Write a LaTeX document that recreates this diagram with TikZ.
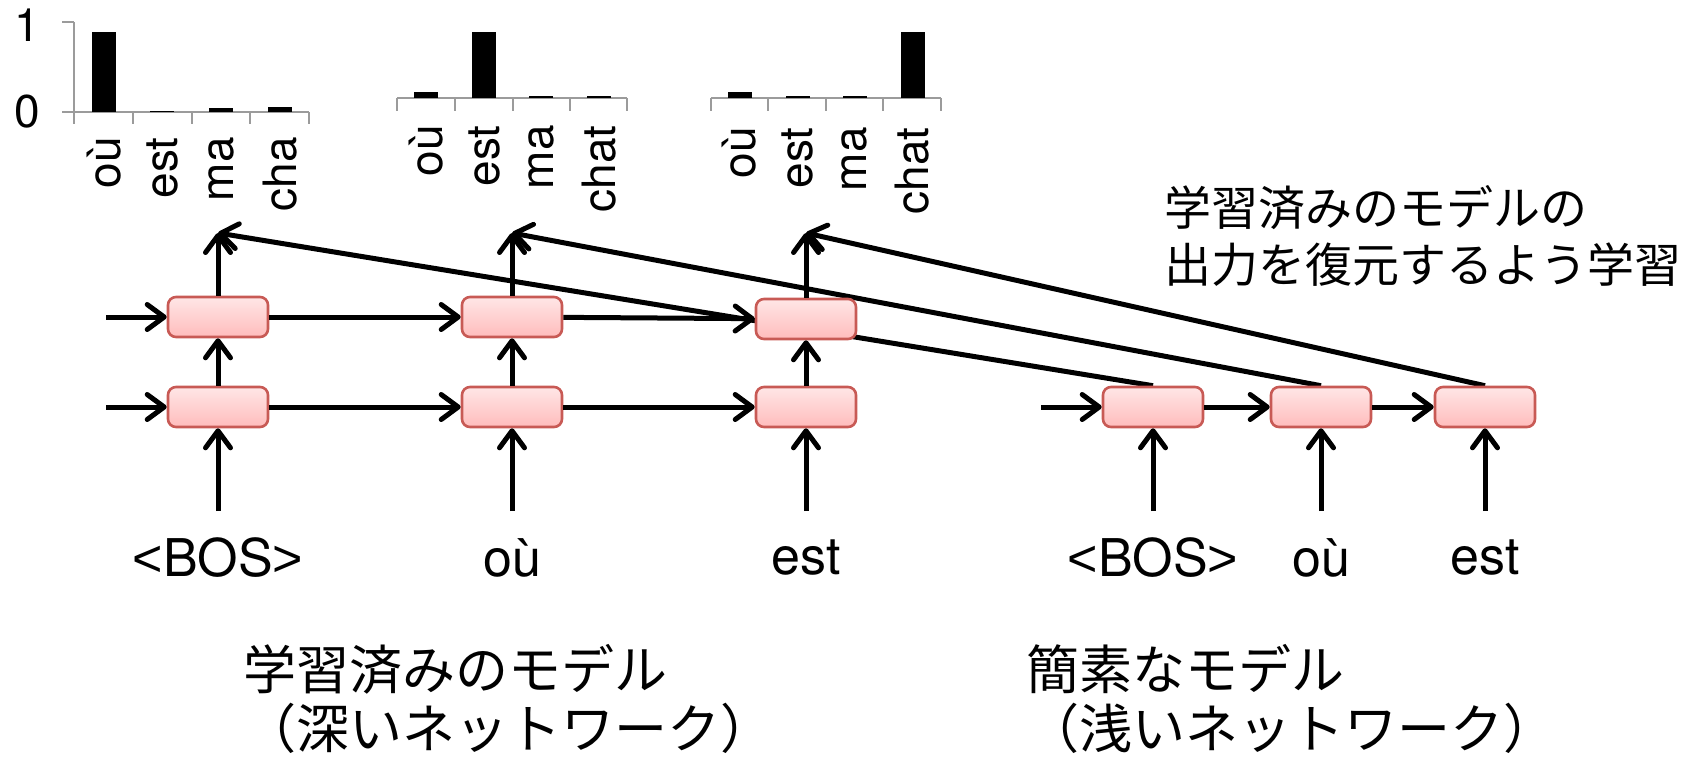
\documentclass[tikz,border=0pt]{standalone}
\usepackage{fontspec}
\setmainfont{TeX Gyre Heros}
\newfontfamily\lib{Liberation Sans}
\newfontfamily\jp{Noto Sans CJK JP}
\usetikzlibrary{arrows.meta}
\pgfdeclarelayer{background}
\pgfsetlayers{background,main}

\definecolor{boxborder}{RGB}{200,90,85}
\definecolor{boxtop}{RGB}{255,230,230}
\definecolor{boxbot}{RGB}{255,188,188}
\definecolor{axisgray}{RGB}{155,155,155}

\newcommand{\bos}{{\lib<}BOS{\lib>}}

\tikzset{
 cell/.style={draw=boxborder, line width=1.3pt, rounded corners=4pt, top color=boxtop, bottom color=boxbot, minimum width=50pt, minimum height=20pt, inner sep=0pt},
 conn/.style={line width=2.5pt, -{Straight Barb[length=8.5pt,width=12.5pt,round]}},
 word/.style={font=\fontsize{26}{30}\selectfont, inner sep=0pt},
 cat/.style={font=\fontsize{23}{27}\selectfont, rotate=90, anchor=east, inner sep=0pt},
 num/.style={font=\fontsize{23}{27}\selectfont, anchor=east, inner sep=0pt},
 jcap/.style={font=\jp\fontsize{26.5}{29.5}\selectfont, anchor=west, inner sep=0pt},
 jnote/.style={font=\jp\fontsize{23.5}{28}\selectfont, anchor=west, inner sep=0pt},
 ax/.style={draw=axisgray, line width=1pt},
}

\begin{document}
\begin{tikzpicture}[x=0.5pt,y=-0.5pt]
\useasboundingbox (0,0) rectangle (1704,757);

% ---------- chart 1 ----------
\draw[ax] (62,22) -- (74,22);
\draw[ax] (74,22) -- (74,124);
\draw[ax] (62,112) -- (309,112);
\foreach \x in {133,192,250,309} \draw[ax] (\x,112) -- (\x,124);
\fill (92,32) rectangle (116,112);
\fill (150,111) rectangle (174,112);
\fill (209,108) rectangle (233,112);
\fill (268,107) rectangle (292,112);
\node[num] (n1) at (40,25) {1};
\node[num] (n0) at (40,112) {0};
\node[cat] (a1) at (104,137) {où};
\node[cat] (a2) at (162,137) {est};
\node[cat] (a3) at (221,137) {ma};
\node[cat] (a4) at (280,137) {cha};

% ---------- chart 2 ----------
\draw[ax] (397,98) -- (627,98);
\foreach \x in {397,455,513,570,627} \draw[ax] (\x,98) -- (\x,111);
\fill (414,92) rectangle (438,98);
\fill (472,32) rectangle (496,98);
\fill (529,96) rectangle (553,98);
\fill (587,96) rectangle (611,98);
\node[cat] (b1l) at (426,125) {où};
\node[cat] (b2l) at (484,125) {est};
\node[cat] (b3l) at (541,125) {ma};
\node[cat] (b4l) at (599,125) {chat};

% ---------- chart 3 ----------
\draw[ax] (711,98) -- (941,98);
\foreach \x in {711,768,826,883,941} \draw[ax] (\x,98) -- (\x,111);
\fill (728,92) rectangle (752,98);
\fill (786,96) rectangle (810,98);
\fill (843,96) rectangle (867,98);
\fill (901,32) rectangle (925,98);
\node[cat] (c1l) at (739,127) {où};
\node[cat] (c2l) at (797,127) {est};
\node[cat] (c3l) at (854,127) {ma};
\node[cat] (c4l) at (912,127) {chat};

% ---------- chart arrow tips ----------
\coordinate (c1) at (218,233);
\coordinate (c2) at (512,233);
\coordinate (c3) at (806,233);

% ---------- deep network ----------
\node[cell] (t1) at (218,317) {};
\node[cell] (t2) at (512,317) {};
\node[cell] (t3) at (806,319) {};
\node[cell] (b1) at (218,407) {};
\node[cell] (b2) at (512,407) {};
\node[cell] (b3) at (806,407) {};

% ---------- shallow network ----------
\node[cell] (s1) at (1153,407) {};
\node[cell] (s2) at (1321,407) {};
\node[cell] (s3) at (1485,407) {};

% ---------- entry coordinates ----------
\coordinate (e1) at (106,317);
\coordinate (e2) at (106,407);
\coordinate (e3) at (1041,407);

% ---------- words ----------
\node[word] (w1) at (218,558) {\bos};
\node[word] (w2) at (512,558) {où};
\node[word] (w3) at (806,558) {est};
\node[word] (w4) at (1153,558) {\bos};
\node[word] (w5) at (1321,558) {où};
\node[word] (w6) at (1485,558) {est};
\foreach \i/\x in {1/218,2/512,3/806,4/1153,5/1321,6/1485}
  \coordinate (i\i) at (\x,511);

% ---------- long distillation lines (behind boxes) ----------
\begin{pgfonlayer}{background}
\draw[conn] (s1.north) -- (c1);
\draw[conn] (s2.north) -- (c2);
\draw[conn] (s3.north) -- (c3);
\end{pgfonlayer}

% ---------- deep connectors ----------
\draw[conn] (e1) -- (t1);
\draw[conn] (e2) -- (b1);
\draw[conn] (t1) -- (t2);
\draw[conn] (t2) -- (t3);
\draw[conn] (b1) -- (b2);
\draw[conn] (b2) -- (b3);
\draw[conn] (b1) -- (t1);
\draw[conn] (b2) -- (t2);
\draw[conn] (b3) -- (t3);
\draw[conn] (t1.north) -- (c1);
\draw[conn] (t2.north) -- (c2);
\draw[conn] (t3.north) -- (c3);
\draw[conn] (i1) -- (b1);
\draw[conn] (i2) -- (b2);
\draw[conn] (i3) -- (b3);

% ---------- shallow connectors ----------
\draw[conn] (e3) -- (s1);
\draw[conn] (s1) -- (s2);
\draw[conn] (s2) -- (s3);
\draw[conn] (i4) -- (s1);
\draw[conn] (i5) -- (s2);
\draw[conn] (i6) -- (s3);

% ---------- Japanese texts ----------
\node[jnote] (note1) at (1164,208) {学習済みのモデルの};
\node[jnote] (note2) at (1164,265) {出力を復元するよう学習};
\node[jcap] (cap1) at (243,669) {学習済みのモデル};
\node[jcap] (cap2) at (243,728) {（深いネットワーク）};
\node[jcap] (cap3) at (1026,669) {簡素なモデル};
\node[jcap] (cap4) at (1026,728) {（浅いネットワーク）};
\end{tikzpicture}
\end{document}
